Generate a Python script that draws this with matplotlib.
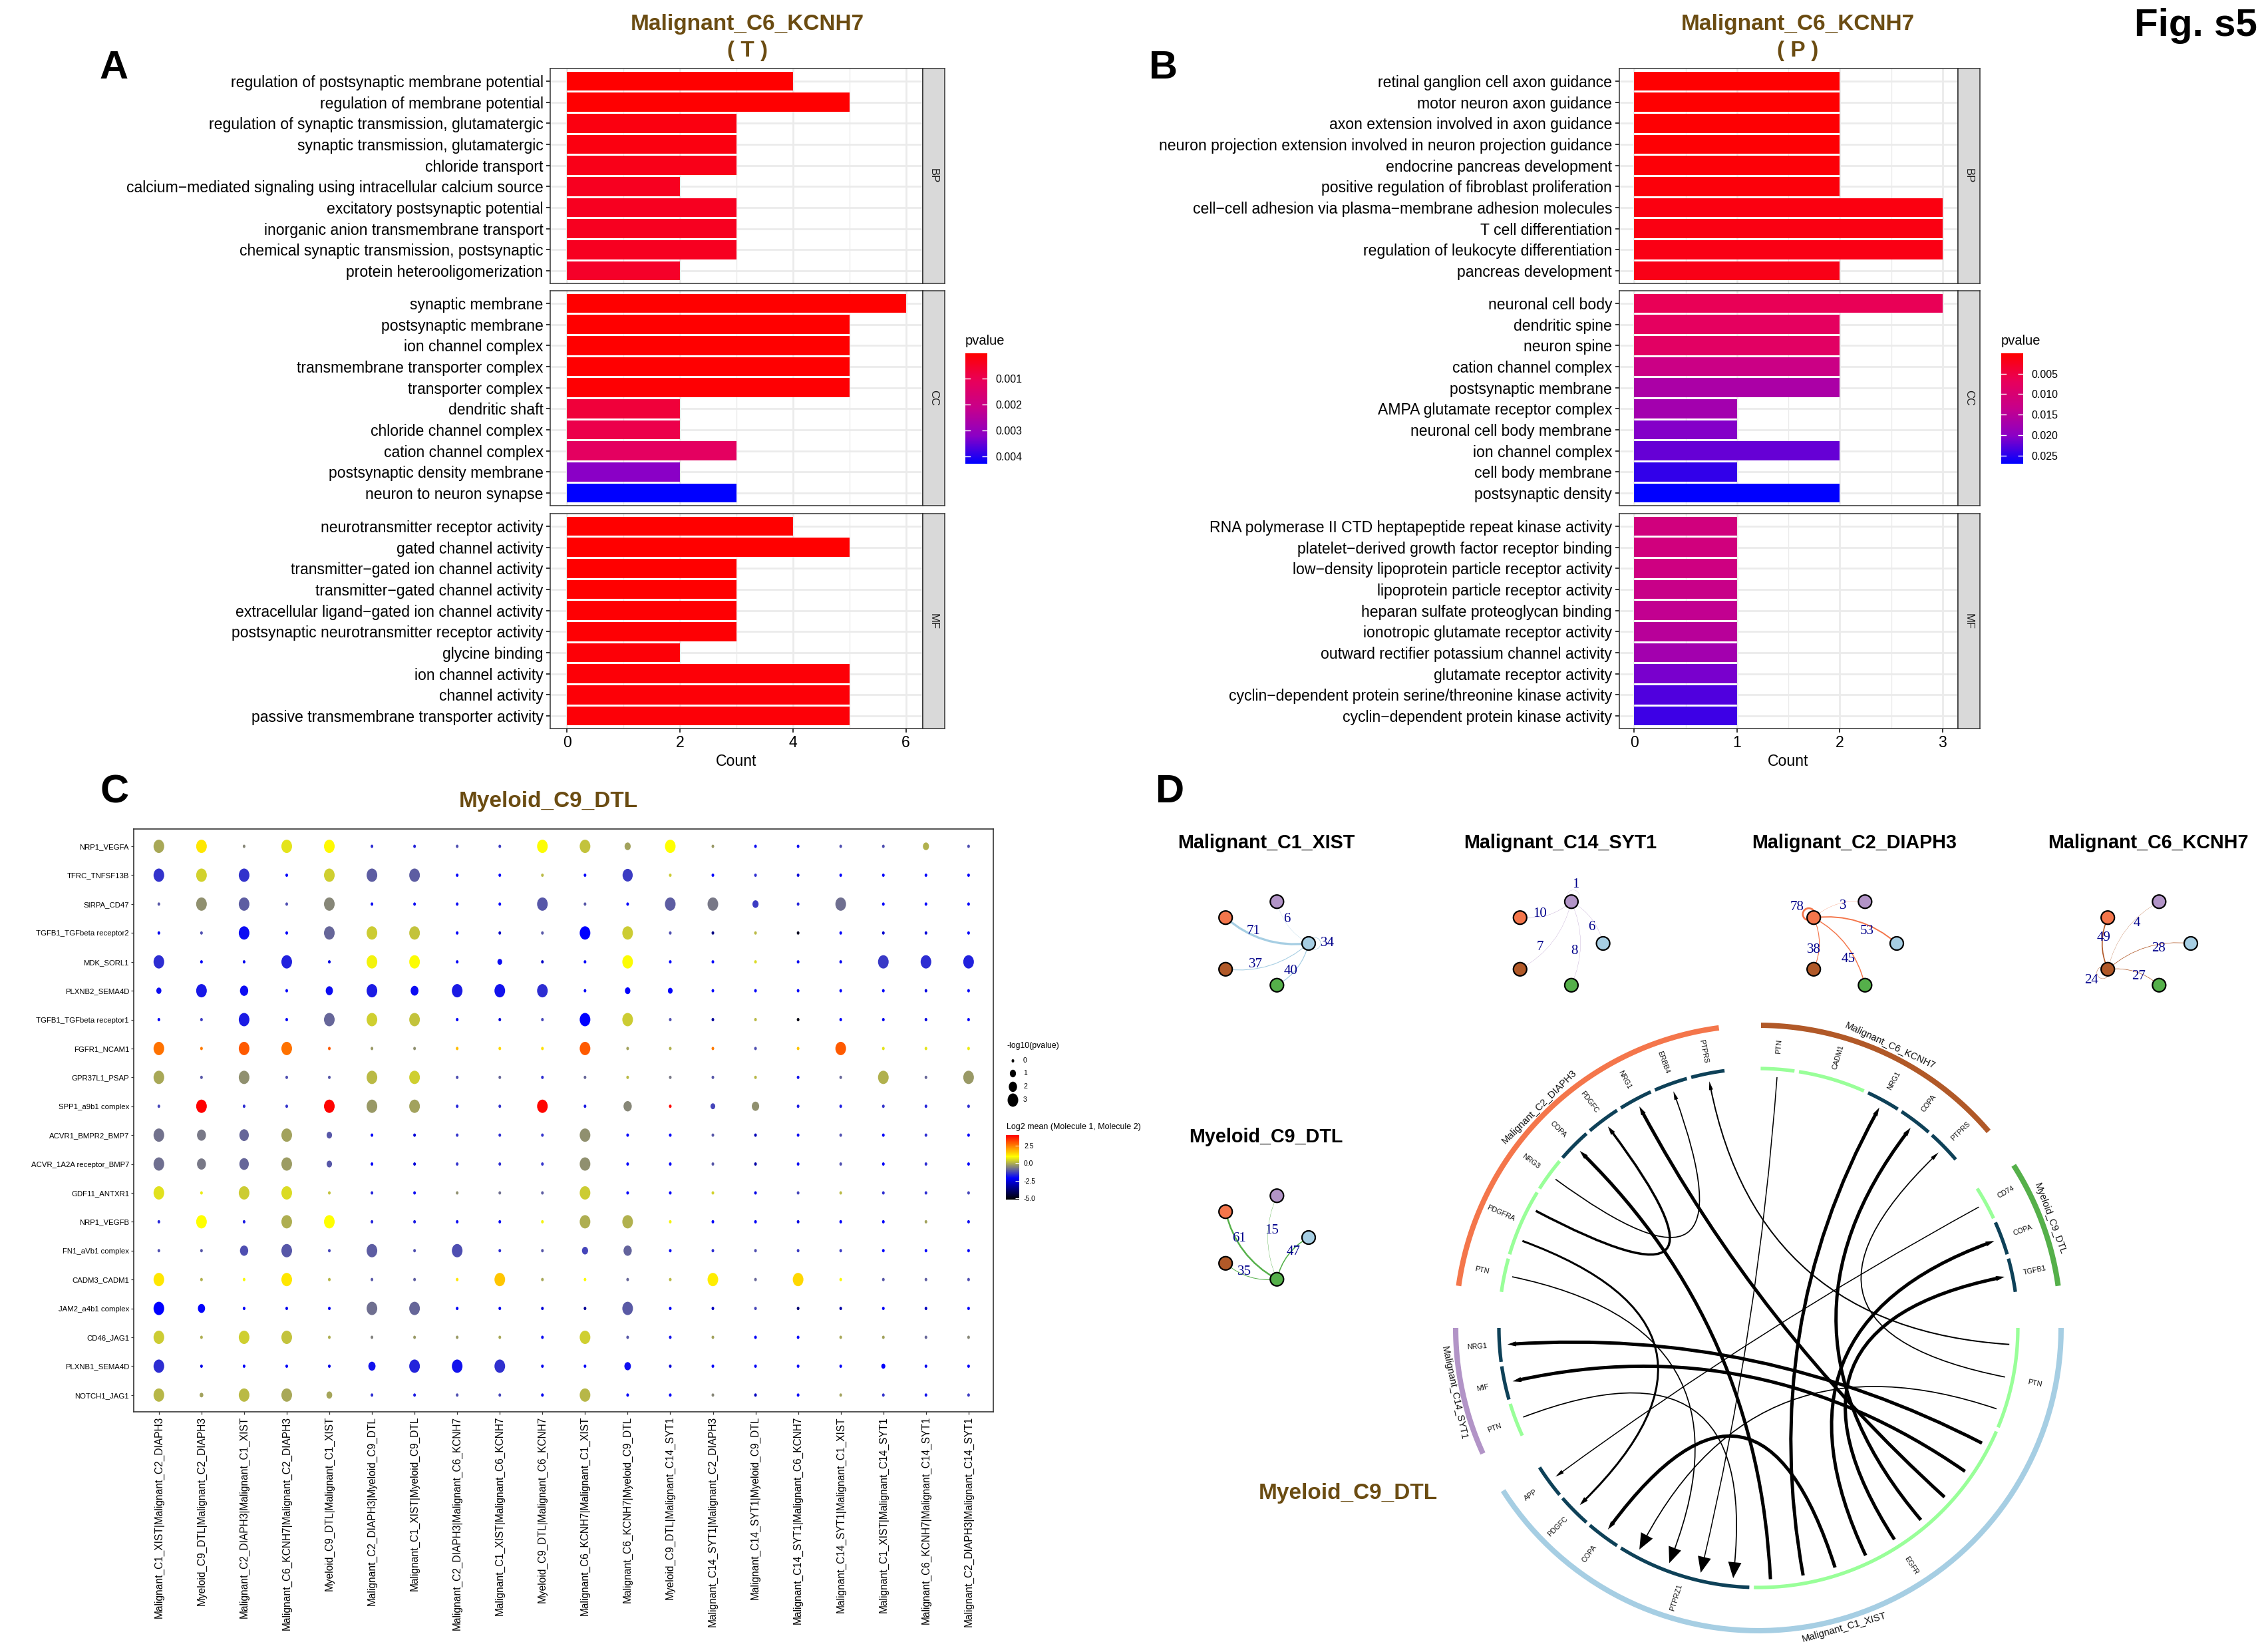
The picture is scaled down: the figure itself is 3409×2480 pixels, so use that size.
import numpy as np
import matplotlib
matplotlib.use("Agg")
import matplotlib.pyplot as plt
from matplotlib.colors import LinearSegmentedColormap, Normalize
from matplotlib.cm import ScalarMappable
from matplotlib.markers import MarkerStyle
from matplotlib.patches import Circle, PathPatch, Polygon
from matplotlib.path import Path
from matplotlib.transforms import Affine2D

plt.rcParams['font.family'] = ['Liberation Sans', 'DejaVu Sans']

W, H = 3409, 2480
fig = plt.figure(figsize=(W / 100, H / 100), dpi=100, facecolor='white')

# ---------------- data: GO panels ----------------
terms_T = {
    'BP': ['regulation of postsynaptic membrane potential', 'regulation of membrane potential',
           'regulation of synaptic transmission, glutamatergic', 'synaptic transmission, glutamatergic',
           'chloride transport', 'calcium−mediated signaling using intracellular calcium source',
           'excitatory postsynaptic potential', 'inorganic anion transmembrane transport',
           'chemical synaptic transmission, postsynaptic', 'protein heterooligomerization'],
    'CC': ['synaptic membrane', 'postsynaptic membrane', 'ion channel complex',
           'transmembrane transporter complex', 'transporter complex', 'dendritic shaft',
           'chloride channel complex', 'cation channel complex', 'postsynaptic density membrane',
           'neuron to neuron synapse'],
    'MF': ['neurotransmitter receptor activity', 'gated channel activity',
           'transmitter−gated ion channel activity', 'transmitter−gated channel activity',
           'extracellular ligand−gated ion channel activity',
           'postsynaptic neurotransmitter receptor activity', 'glycine binding',
           'ion channel activity', 'channel activity', 'passive transmembrane transporter activity'],
}
count_T = {'BP': [4, 5, 3, 3, 3, 2, 3, 3, 3, 2],
           'CC': [6, 5, 5, 5, 5, 2, 2, 3, 2, 3],
           'MF': [4, 5, 3, 3, 3, 3, 2, 5, 5, 5]}
pval_T = {'BP': [0.00002, 0.00004, 0.0002, 0.0002, 0.0003, 0.0004, 0.0004, 0.0004, 0.0004, 0.0005],
          'CC': [0.00002, 0.00003, 0.00003, 0.00004, 0.00005, 0.0007, 0.0009, 0.0012, 0.0032, 0.00427],
          'MF': [0.00002, 0.00003, 0.00003, 0.00003, 0.00005, 0.00007, 0.0001, 0.0001, 0.0001, 0.0001]}

terms_P = {
    'BP': ['retinal ganglion cell axon guidance', 'motor neuron axon guidance',
           'axon extension involved in axon guidance',
           'neuron projection extension involved in neuron projection guidance',
           'endocrine pancreas development', 'positive regulation of fibroblast proliferation',
           'cell−cell adhesion via plasma−membrane adhesion molecules', 'T cell differentiation',
           'regulation of leukocyte differentiation', 'pancreas development'],
    'CC': ['neuronal cell body', 'dendritic spine', 'neuron spine', 'cation channel complex',
           'postsynaptic membrane', 'AMPA glutamate receptor complex', 'neuronal cell body membrane',
           'ion channel complex', 'cell body membrane', 'postsynaptic density'],
    'MF': ['RNA polymerase II CTD heptapeptide repeat kinase activity',
           'platelet−derived growth factor receptor binding',
           'low−density lipoprotein particle receptor activity', 'lipoprotein particle receptor activity',
           'heparan sulfate proteoglycan binding', 'ionotropic glutamate receptor activity',
           'outward rectifier potassium channel activity', 'glutamate receptor activity',
           'cyclin−dependent protein serine/threonine kinase activity',
           'cyclin−dependent protein kinase activity'],
}
count_P = {'BP': [2, 2, 2, 2, 2, 2, 3, 3, 3, 2],
           'CC': [3, 2, 2, 2, 2, 1, 1, 2, 1, 2],
           'MF': [1, 1, 1, 1, 1, 1, 1, 1, 1, 1]}
pval_P = {'BP': [0.0002, 0.0002, 0.0003, 0.0004, 0.0006, 0.0008, 0.0012, 0.0014, 0.0015, 0.0018],
          'CC': [0.0065, 0.0075, 0.008, 0.0125, 0.0165, 0.0175, 0.0205, 0.022, 0.0245, 0.027],
          'MF': [0.0115, 0.0115, 0.012, 0.013, 0.014, 0.015, 0.0175, 0.021, 0.023, 0.024]}

# ---------------- data: panel C ----------------
pairs = ['NRP1_VEGFA', 'TFRC_TNFSF13B', 'SIRPA_CD47', 'TGFB1_TGFbeta receptor2', 'MDK_SORL1',
         'PLXNB2_SEMA4D', 'TGFB1_TGFbeta receptor1', 'FGFR1_NCAM1', 'GPR37L1_PSAP', 'SPP1_a9b1 complex',
         'ACVR1_BMPR2_BMP7', 'ACVR_1A2A receptor_BMP7', 'GDF11_ANTXR1', 'NRP1_VEGFB', 'FN1_aVb1 complex',
         'CADM3_CADM1', 'JAM2_a4b1 complex', 'CD46_JAG1', 'PLXNB1_SEMA4D', 'NOTCH1_JAG1']
clusters = ['Malignant_C1_XIST|Malignant_C2_DIAPH3', 'Myeloid_C9_DTL|Malignant_C2_DIAPH3',
            'Malignant_C2_DIAPH3|Malignant_C1_XIST', 'Malignant_C6_KCNH7|Malignant_C2_DIAPH3',
            'Myeloid_C9_DTL|Malignant_C1_XIST', 'Malignant_C2_DIAPH3|Myeloid_C9_DTL',
            'Malignant_C1_XIST|Myeloid_C9_DTL', 'Malignant_C2_DIAPH3|Malignant_C6_KCNH7',
            'Malignant_C1_XIST|Malignant_C6_KCNH7', 'Myeloid_C9_DTL|Malignant_C6_KCNH7',
            'Malignant_C6_KCNH7|Malignant_C1_XIST', 'Malignant_C6_KCNH7|Myeloid_C9_DTL',
            'Myeloid_C9_DTL|Malignant_C14_SYT1', 'Malignant_C14_SYT1|Malignant_C2_DIAPH3',
            'Malignant_C14_SYT1|Myeloid_C9_DTL', 'Malignant_C14_SYT1|Malignant_C6_KCNH7',
            'Malignant_C14_SYT1|Malignant_C1_XIST', 'Malignant_C1_XIST|Malignant_C14_SYT1',
            'Malignant_C6_KCNH7|Malignant_C14_SYT1', 'Malignant_C2_DIAPH3|Malignant_C14_SYT1']
# -log10(p) by row, column
dot_p = [
    [3, 3, 0, 3, 3, 0, 0, 0, 0, 3, 3, 1, 3, 0, 0, 0, 0, 0, 1, 0],
    [3, 3, 3, 0, 3, 3, 3, 0, 0, 0, 0, 2.8, 0, 0, 0, 0, 0, 0, 0, 0],
    [0, 3, 3, 0, 3, 0, 0, 0, 0, 3, 0, 0, 3, 3, 1, 0, 3, 0, 0, 0],
    [0, 0, 3, 0, 3, 3, 3, 0, 0, 0, 3, 3, 0, 0, 0, 0, 0, 0, 0, 0],
    [3, 0, 0, 3, 0, 3, 3, 0, 0.6, 0, 0, 3, 0, 0, 0, 0, 0, 3, 3, 3],
    [0.7, 3, 2, 0, 1.5, 3, 1.8, 3, 3, 3, 0, 0.8, 0.6, 0, 0, 0, 0, 0, 0, 0],
    [0, 0, 3, 0, 3, 3, 3, 0, 0, 0, 3, 3, 0, 0, 0, 0, 0, 0, 0, 0],
    [3, 0, 3, 3, 0, 0, 0, 0, 0, 0, 3, 0, 0, 0, 0, 0, 3, 0, 0, 0],
    [3, 0, 3, 0, 0, 3, 3, 0, 0, 0, 0, 0, 0, 0, 0, 0, 0, 3, 0, 3],
    [0, 3, 0, 0, 3, 3, 3, 0, 0, 3, 0, 2, 0, 0.6, 1.6, 0, 0, 0, 0, 0],
    [3, 2.3, 2.5, 3, 0.8, 0, 0, 0, 0, 0, 3, 0, 0, 0, 0, 0, 0, 0, 0, 0],
    [3, 2.3, 2.5, 3, 0.8, 0, 0, 0, 0, 0, 3, 0, 0, 0, 0, 0, 0, 0, 0, 0],
    [3, 0, 3, 3, 0, 0, 0, 0, 0, 0, 3, 0, 0, 0, 0, 0, 0, 0, 0, 0],
    [0, 3, 0, 3, 3, 0, 0, 0, 0, 0, 3, 3, 0, 0, 0, 0, 0, 0, 0, 0],
    [0, 0, 2, 3, 0, 3, 0, 3, 0, 0, 1, 2, 0, 0, 0, 0, 0, 0, 0, 0],
    [3, 0, 0, 3, 0, 0, 0, 0, 3, 0, 0, 0, 0, 3, 0, 3, 0, 0, 0, 0],
    [3, 1.5, 0, 0, 0, 3, 3, 0, 0, 0, 0, 3, 0, 0, 0, 0, 0, 0, 0, 0],
    [3, 0, 3, 3, 0, 0, 0, 0, 0, 0, 3, 0, 0, 0, 0, 0, 0, 0, 0, 0],
    [3, 0, 0, 0, 0, 1.5, 3, 3, 3, 0, 0, 1.2, 0, 0, 0, 0, 0, 0.4, 0, 0],
    [3, 0.3, 3, 3, 0.9, 0, 0, 0, 0, 0, 3, 0, 0, 0, 0, 0, 0, 0, 0, 0],
]
# log2 mean by row, column
dot_mean = [
    [-0.1, 1.2, -0.5, 0.6, 1.0, -1.6, -1.7, -1.2, -1.4, 0.9, 0.2, -0.2, 0.93, -0.3, -2.0, -2.0, -1.2, -1.2, 0.0, -1.2],
    [-1.5, 0.4, -1.5, -2.1, 0.35, -1.0, -1.0, -2.1, -2.1, 0.1, -2.1, -1.4, 0.3, -2.1, -1.6, -2.6, -2.1, -2.1, -2.1, -2.1],
    [-1.1, -0.4, -1.0, -1.2, -0.5, -2.0, -2.0, -2.0, -2.1, -1.1, -1.1, -2.1, -1.0, -0.7, -1.4, -1.7, -0.8, -2.1, -2.1, -2.1],
    [-2.3, -1.2, -2.0, -2.2, -0.9, 0.3, 0.2, -2.2, -2.8, -1.1, -2.13, 0.3, -1.2, -3.6, 0.1, -4.8, -2.1, -2.7, -2.6, -2.1],
    [-1.6, -2.2, -2.3, -1.75, -2.5, 0.8, 0.9, -2.2, -2.0, -2.8, -2.1, 0.9, -2.1, -2.1, 0.5, -2.3, -2.3, -1.45, -1.6, -1.75],
    [-2.0, -1.85, -2.0, -2.1, -2.0, -1.8, -2.0, -1.8, -1.9, -1.6, -2.2, -2.1, -2.1, -2.1, -2.1, -2.1, -2.1, -2.2, -2.5, -2.1],
    [-2.2, -1.4, -1.8, -2.2, -0.9, 0.35, 0.2, -2.2, -2.6, -1.3, -2.13, 0.3, -1.2, -3.3, 0.1, -5.0, -2.1, -2.3, -2.5, -2.1],
    [2.6, 2.5, 2.9, 2.6, 2.9, -0.3, -0.4, 1.7, 1.4, 1.3, 2.9, -0.2, 0.0, 2.5, -1.2, 1.6, 2.9, 0.6, 0.6, 0.7],
    [-0.1, -1.1, -0.4, -1.2, -1.1, 0.1, 0.35, -1.2, -0.9, -1.6, -0.9, 0.1, -0.7, -1.1, 0.05, -1.9, -0.9, 0.0, -0.9, -0.3],
    [-1.3, 4.0, -1.6, -1.5, 3.95, -0.3, -0.2, -1.7, -1.5, 3.9, -1.8, -0.5, 3.9, -1.3, -0.4, -1.8, -1.8, -1.5, -1.7, -1.6],
    [-0.75, -0.7, -0.9, -0.2, -1.1, -2.2, -2.6, -1.5, -1.6, -1.5, -0.4, -2.1, -2.2, -1.1, -3.0, -2.0, -1.2, -2.2, -1.6, -2.1],
    [-0.8, -0.7, -0.9, -0.25, -1.1, -2.2, -2.6, -1.5, -1.6, -1.5, -0.4, -2.1, -2.2, -1.1, -3.2, -2.0, -1.2, -2.2, -1.6, -2.1],
    [0.55, 0.7, 0.3, 0.5, 0.2, -1.7, -2.0, -0.4, -0.8, -1.0, 0.3, -2.1, -2.2, 0.4, -2.4, -1.3, 0.1, -1.6, -1.6, -1.3],
    [-1.7, 0.93, -1.8, -0.05, 0.93, -1.7, -1.8, -2.0, -2.0, 0.8, -0.05, 0.0, 0.8, -2.2, -2.2, -2.5, -2.2, -2.1, -0.2, -2.0],
    [-1.2, -1.1, -1.2, -1.1, -1.3, -1.0, -1.2, -1.2, -1.6, -1.1, -1.3, -0.95, -2.0, -1.6, -1.2, -1.4, -1.4, -2.1, -2.1, -2.1],
    [1.2, 0.0, 0.85, 1.2, 0.05, -1.1, -1.0, 1.2, 1.6, -0.1, 0.9, -0.9, 0.1, 1.15, -0.9, 1.4, 0.85, -1.1, -1.0, -1.2],
    [-2.13, -2.1, -2.2, -2.3, -2.3, -0.8, -0.9, -2.2, -2.3, -2.6, -3.4, -1.05, -2.2, -2.9, -1.3, -3.8, -3.2, -2.2, -2.9, -2.1],
    [0.3, -0.05, 0.35, 0.2, -0.05, -0.6, -0.3, -0.3, -0.1, -2.0, 0.35, -1.1, -1.9, -0.2, -2.2, -2.1, -0.1, -0.2, -0.9, -0.5],
    [-1.6, -2.4, -2.2, -2.2, -2.4, -1.9, -1.7, -1.9, -1.55, -2.3, -2.2, -1.95, -2.6, -2.2, -2.2, -2.2, -2.2, -2.1, -2.3, -2.1],
    [0.05, -0.2, 0.1, -0.1, -0.15, -1.6, -1.8, -1.2, -1.3, -2.3, 0.05, -2.2, -2.2, -0.5, -2.9, -2.2, -0.2, -1.5, -1.9, -1.4],
]
size_levels = [0, 1, 2, 3]

# ---------------- data: panel D ----------------
cell_colors = {'Malignant_C14_SYT1': '#B294C7', 'Malignant_C2_DIAPH3': '#F4764B', 'Malignant_C1_XIST': '#A6CEE3',
               'Malignant_C6_KCNH7': '#B15928', 'Myeloid_C9_DTL': '#55B04A'}
# interaction counts from a sender to: layout order [C1, C14, C2, C6, C9]
net_order = ['Malignant_C1_XIST', 'Malignant_C14_SYT1', 'Malignant_C2_DIAPH3', 'Malignant_C6_KCNH7', 'Myeloid_C9_DTL']
net_counts = {'Malignant_C1_XIST': [34, 6, 71, 37, 40],
              'Malignant_C14_SYT1': [6, 1, 10, 7, 8],
              'Malignant_C2_DIAPH3': [53, 3, 78, 38, 45],
              'Malignant_C6_KCNH7': [28, 4, 49, 24, 27],
              'Myeloid_C9_DTL': [47, 15, 61, 35, 0]}

chord_sectors = ['Malignant_C1_XIST', 'Malignant_C14_SYT1', 'Malignant_C2_DIAPH3', 'Malignant_C6_KCNH7', 'Myeloid_C9_DTL']
chord_genes = {
    'Malignant_C1_XIST': [('PTN', 3, 'L'), ('EGFR', 9, 'L'), ('PTPRZ1', 4, 'R'), ('COPA', 1, 'R'), ('PDGFC', 1, 'R'), ('APP', 1, 'R')],
    'Malignant_C14_SYT1': [('PTN', 1, 'L'), ('MIF', 1, 'R'), ('NRG1', 1, 'R')],
    'Malignant_C2_DIAPH3': [('PTN', 1, 'L'), ('PDGFRA', 2, 'L'), ('NRG3', 1, 'L'), ('COPA', 1, 'R'), ('PDGFC', 1, 'R'),
                            ('NRG1', 1, 'R'), ('ERBB4', 1, 'R'), ('PTPRS', 1, 'R')],
    'Malignant_C6_KCNH7': [('PTN', 1, 'L'), ('CADM1', 2, 'L'), ('NRG1', 1, 'R'), ('COPA', 1, 'R'), ('PTPRS', 1, 'R')],
    'Myeloid_C9_DTL': [('CD74', 1, 'L'), ('COPA', 1, 'R'), ('TGFB1', 1, 'R')],
}
C1, C14, C2, C6, C9 = chord_sectors
# source (sector, gene, slot), target (sector, gene, slot), strength
chord_links = [
    (C1, 'EGFR', 0, C14, 'NRG1', 0, 5), (C1, 'EGFR', 1, C14, 'MIF', 0, 5), (C1, 'EGFR', 2, C2, 'NRG1', 0, 5),
    (C1, 'EGFR', 3, C6, 'COPA', 0, 5), (C1, 'EGFR', 4, C9, 'TGFB1', 0, 5), (C1, 'EGFR', 5, C9, 'COPA', 0, 5),
    (C1, 'EGFR', 6, C1, 'COPA', 0, 5), (C1, 'EGFR', 7, C6, 'NRG1', 0, 5), (C1, 'EGFR', 8, C2, 'COPA', 0, 5),
    (C2, 'PDGFRA', 0, C1, 'PDGFC', 0, 3), (C2, 'PDGFRA', 1, C2, 'PDGFC', 0, 3.5),
    (C2, 'NRG3', 0, C2, 'ERBB4', 0, 1.7), (C2, 'PTN', 0, C1, 'PTPRZ1', 2, 1.7),
    (C6, 'PTN', 0, C1, 'PTPRZ1', 1, 1.5), (C14, 'PTN', 0, C1, 'PTPRZ1', 0, 1.7),
    (C1, 'PTN', 2, C1, 'PTPRZ1', 3, 1.7), (C1, 'PTN', 0, C2, 'PTPRS', 0, 2),
    (C1, 'PTN', 1, C6, 'PTPRS', 0, 1.7), (C9, 'CD74', 0, C1, 'APP', 0, 1.5),
]

# ---------------- styling ----------------
BROWN = '#6B4C12'
GO_CMAP = LinearSegmentedColormap.from_list('go', ['#FF0000', '#E8005A', '#C6008C', '#8A00C6', '#0000FF'])
CPDB_CMAP = LinearSegmentedColormap.from_list('cpdb', ['black', 'blue', 'yellow', 'red'])


def px_axes(x0, y0, x1, y1, **kw):
    return fig.add_axes([x0 / W, 1 - y1 / H, (x1 - x0) / W, (y1 - y0) / H], **kw)


bg = px_axes(0, 0, W, H)
bg.set_xlim(0, W)
bg.set_ylim(H, 0)
bg.axis('off')


def go_panel(terms, counts, pvals, x0, x1, xstrip, xlim, xmajor, xminor, vmin, vmax, ticks, cbx, cby, tick_fmt):
    norm = Normalize(vmin, vmax)
    ys = {'BP': (103, 426), 'CC': (437, 760), 'MF': (772, 1095)}
    for key, (y0, y1) in ys.items():
        ax = px_axes(x0, y0, x1, y1)
        pos = np.arange(10)
        ax.barh(pos, counts[key], height=0.9, color=GO_CMAP(norm(pvals[key])), zorder=3)
        ax.set_yticks(pos)
        ax.set_yticklabels(terms[key], fontsize=16.6, color='black')
        ax.set_ylim(9.6, -0.6)
        ax.set_xlim(*xlim)
        ax.set_xticks(xmajor)
        ax.set_xticks(xminor, minor=True)
        ax.grid(True, which='major', color='#EBEBEB', lw=2.0, zorder=0)
        ax.grid(True, which='minor', axis='x', color='#EBEBEB', lw=1.0, zorder=0)
        ax.tick_params(axis='y', length=4.5, width=1.4, color='#333333', pad=3)
        ax.tick_params(axis='x', which='minor', length=0)
        if key == 'MF':
            ax.tick_params(axis='x', which='major', length=4.5, width=1.4, color='#333333', labelsize=16.6, pad=3)
            ax.set_xlabel('Count', fontsize=16.6, labelpad=3)
        else:
            ax.tick_params(axis='x', which='major', length=0, labelbottom=False)
        for s in ax.spines.values():
            s.set_color('#333333')
            s.set_linewidth(1.1)
        st = px_axes(x1, y0, xstrip, y1)
        st.set_facecolor('#D9D9D9')
        st.set_xticks([])
        st.set_yticks([])
        for s in st.spines.values():
            s.set_color('#333333')
            s.set_linewidth(1.1)
        st.text(0.5, 0.5, key, rotation=-90, ha='center', va='center', fontsize=12,
                color='#1A1A1A', transform=st.transAxes)
    cax = px_axes(cbx, cby[0], cbx + 33, cby[1])
    cb = fig.colorbar(ScalarMappable(norm=norm, cmap=GO_CMAP), cax=cax)
    cax.invert_yaxis()
    cb.outline.set_visible(False)
    cb.set_ticks(ticks)
    cb.set_ticklabels([tick_fmt % t for t in ticks])
    cax.tick_params(length=6, width=1, color='white', direction='in', labelsize=11.5, pad=9)
    for t in ticks:
        cax.plot([0, 0.2], [t, t], color='white', lw=1, transform=cax.get_yaxis_transform())
    bg.text(cbx, cby[0] - 19, 'pvalue', fontsize=14.5, va='center')


go_panel(terms_T, count_T, pval_T, 827, 1387, 1420, (-0.3, 6.3), [0, 2, 4, 6], [1, 3, 5],
         0.0000135, 0.00427, [0.001, 0.002, 0.003, 0.004], 1451, (531, 697), '%.3f')
go_panel(terms_P, count_P, pval_P, 2433.5, 2942.6, 2976, (-0.148, 3.148), [0, 1, 2, 3], [0.5, 1.5, 2.5],
         0.00002, 0.027, [0.005, 0.010, 0.015, 0.020, 0.025], 3008, (531, 697), '%.3f')

# ---------------- panel C ----------------
axc = px_axes(201, 1246, 1493, 2122)
xx, yy = np.meshgrid(np.arange(20), np.arange(20))
oval = MarkerStyle(Path.unit_circle().transformed(Affine2D().scale(0.8, 1.0)))
dia = np.interp(np.array(dot_p), size_levels, [5, 11.5, 15.5, 20])
norm_c = Normalize(-5.2, 4.0)
axc.scatter(xx.ravel(), yy.ravel(), s=(dia.ravel() * 0.72) ** 2, c=np.array(dot_mean).ravel(),
            cmap=CPDB_CMAP, norm=norm_c, marker=oval, linewidths=0, zorder=3)
axc.set_xlim(-0.59, 19.58)
axc.set_ylim(19.58, -0.6)
axc.set_xticks(np.arange(20))
axc.set_xticklabels(clusters, rotation=90, fontsize=11.2, va='top', ha='center')
axc.set_yticks(np.arange(20))
axc.set_yticklabels(pairs, fontsize=8.2)
axc.tick_params(axis='both', length=3, width=0.9, color='#333333', pad=2)
for s in axc.spines.values():
    s.set_color('#333333')
    s.set_linewidth(1.2)

bg.text(1513, 1572, '-log10(pvalue)', fontsize=8.8, va='center')
for lev, y in zip(size_levels, [1594, 1613, 1633, 1653]):
    d = np.interp(lev, size_levels, [5, 11.5, 15.5, 20])
    bg.scatter([1522], [y], s=(d * 0.72) ** 2, c='black', marker=oval, linewidths=0)
    bg.text(1538, y, str(lev), fontsize=7.5, va='center')
bg.text(1513, 1694, 'Log2 mean (Molecule 1, Molecule 2)', fontsize=9, va='center')
cax2 = px_axes(1512, 1706, 1532, 1803)
cb2 = fig.colorbar(ScalarMappable(norm=norm_c, cmap=CPDB_CMAP), cax=cax2)
cb2.outline.set_visible(False)
cb2.set_ticks([-5, -2.5, 0, 2.5])
cb2.set_ticklabels(['-5.0', '-2.5', '0.0', '2.5'])
cax2.tick_params(length=4, width=0.7, color='white', direction='in', labelsize=7.5, pad=5)

# ---------------- titles ----------------
for x, y, s in [(1123, 36, 'Malignant_C6_KCNH7'), (1123, 77, '( T )'), (2702, 36, 'Malignant_C6_KCNH7'),
                (2702, 77, '( P )'), (824, 1205, 'Myeloid_C9_DTL'), (2026, 2245, 'Myeloid_C9_DTL')]:
    bg.text(x, y, s, color=BROWN, fontsize=24, fontweight='bold', ha='center', va='center')
for x, y, s in [(171, 103, 'A'), (1748, 103, 'B'), (172, 1191, 'C'), (1759, 1191, 'D')]:
    bg.text(x, y, s, fontsize=43, fontweight='bold', ha='center', va='center')
bg.text(3393, 39, 'Fig. s5', fontsize=42, fontweight='bold', ha='right', va='center')

# ---------------- panel D: networks ----------------
net_centers = {'Malignant_C1_XIST': (1898, 1418), 'Malignant_C14_SYT1': (2340.6, 1418),
               'Malignant_C2_DIAPH3': (2782, 1418), 'Malignant_C6_KCNH7': (3224, 1418),
               'Myeloid_C9_DTL': (1898, 1860)}
net_titles = {'Malignant_C1_XIST': (1903, 1267), 'Malignant_C14_SYT1': (2345, 1267),
              'Malignant_C2_DIAPH3': (2787, 1267), 'Malignant_C6_KCNH7': (3229, 1267),
              'Myeloid_C9_DTL': (1903, 1709)}
node_angle = np.deg2rad([0, 72, 144, 216, 288])
label_offsets = {
    'Malignant_C1_XIST': [(97, 0), (36, -36), (-14, -19), (-11, 32), (42, 41)],
    'Malignant_C14_SYT1': [(52, -25), (28, -89), (-26, -44), (-26, 6), (26, 11)],
    'Malignant_C2_DIAPH3': [(24, -19), (-12, -57), (-81, -54), (-56, 10), (-4, 23)],
    'Malignant_C6_KCNH7': [(20, 8), (-12, -30), (-62, -9), (-80, 56), (-9, 50)],
    'Myeloid_C9_DTL': [(46, 22), (14, -11), (-36, 1), (-28, 52), (0, 0)],
}
for name in net_order:
    cx, cy = net_centers[name]
    pts = np.c_[cx + 69 * np.cos(node_angle), cy - 66 * np.sin(node_angle)]
    src = net_order.index(name)
    col = cell_colors[name]
    for j, w in enumerate(net_counts[name]):
        if w == 0:
            continue
        lw = 0.2 + (w / 78) ** 2 * 2.6
        if j == src:
            out = pts[src] - np.array([cx, cy])
            c = pts[src] + out / np.hypot(*out) * 9
            bg.add_patch(Circle(c, 9, fill=False, ec=col, lw=lw * 0.7, zorder=3))
        else:
            p0, p1 = pts[src], pts[j]
            d = p1 - p0
            ctrl = (p0 + p1) / 2 - 0.22 * np.array([-d[1], d[0]])
            bg.add_patch(PathPatch(Path([p0, ctrl, p1], [Path.MOVETO, Path.CURVE3, Path.CURVE3]),
                                   fill=False, ec=col, lw=lw, zorder=3))
        ox, oy = label_offsets[name][j]
        bg.text(cx + ox, cy + oy, str(w), family='Liberation Serif', fontsize=15, color='#00008B',
                ha='center', va='center', zorder=6)
    for k, nm in enumerate(net_order):
        bg.add_patch(Circle(pts[k], 10, fc=cell_colors[nm], ec='black', lw=1.6, zorder=5))
    tx, ty = net_titles[name]
    bg.text(tx, ty, name, fontsize=20.7, fontweight='bold', ha='center', va='center')

# ---------------- panel D: chord ----------------
CX, CY = 2643, 1996
R_OUT, R_IN, R_LINK, R_GENE, R_NAME = 455, 390, 378, 424, 468
UNIT, GENE_GAP, SECTOR_GAP = 7.5, 1.0, 8.0
LIGAND, RECEPTOR = '#99FF99', '#0E4158'
NAME_ANGLE = {C1: -74, C14: 192 - 360, C2: 134.7 - 360, C6: 65 - 360, C9: 20.5 - 360}


def pol(r, a):
    a = np.deg2rad(a)
    return np.array([CX + r * np.cos(a), CY - r * np.sin(a)])


def arc(a0, a1, r, color, lw):
    t = np.linspace(a0, a1, 80)
    p = np.array([pol(r, v) for v in t])
    bg.plot(p[:, 0], p[:, 1], color=color, lw=lw, solid_capstyle='butt', zorder=2)


def rot_for(a):
    a = (a + 180) % 360 - 180
    return a if -90 < a < 90 else a - 180


gene_start = {}
angle = 0.0
for sector in chord_sectors:
    s0 = angle
    for i, (gene, units, kind) in enumerate(chord_genes[sector]):
        a0, a1 = angle, angle - units * UNIT
        gene_start[(sector, gene)] = a0
        arc(a0, a1, R_IN, LIGAND if kind == 'L' else RECEPTOR, 3.8)
        mid = (a0 + a1) / 2
        px, py = pol(R_GENE, mid)
        bg.text(px, py, gene, fontsize=7.8, rotation=rot_for(mid), ha='center', va='center',
                rotation_mode='anchor', color='#111111')
        angle = a1 - (GENE_GAP if i < len(chord_genes[sector]) - 1 else 0)
    arc(s0, angle, R_OUT, cell_colors[sector], 5.8)
    mid = NAME_ANGLE[sector]
    px, py = pol(R_NAME, mid)
    m = (mid + 180) % 360 - 180
    rot = m - 90 if m > 0 else m + 90
    bg.text(px, py, sector, fontsize=10.5, rotation=rot, ha='center', va='center',
            rotation_mode='anchor', color='#111111')
    angle -= SECTOR_GAP

for s_sec, s_gene, s_slot, t_sec, t_gene, t_slot, strength in chord_links:
    a0 = gene_start[(s_sec, s_gene)] - (s_slot + 0.5) * UNIT
    a1 = gene_start[(t_sec, t_gene)] - (t_slot + 0.5) * UNIT
    p0, p1, ctrl = pol(R_LINK, a0), pol(R_LINK, a1), np.array([CX, CY])
    big = t_gene == 'PTPRZ1'
    length = 24 if big else 13
    width = 20 if big else (7.5 if strength >= 3 else 6)
    u = p1 - ctrl
    u = u / np.hypot(*u)
    n = np.array([-u[1], u[0]])
    end = p1 - u * length * 0.7
    bg.add_patch(PathPatch(Path([p0, ctrl, end], [Path.MOVETO, Path.CURVE3, Path.CURVE3]),
                           fill=False, ec='black', lw=strength * 0.72, capstyle='butt', zorder=4))
    base = p1 - u * length
    bg.add_patch(Polygon([p1, base + n * width / 2, base - n * width / 2], closed=True, fc='black', ec='none', zorder=4))

fig.savefig('out.png', dpi=100, facecolor='white')
